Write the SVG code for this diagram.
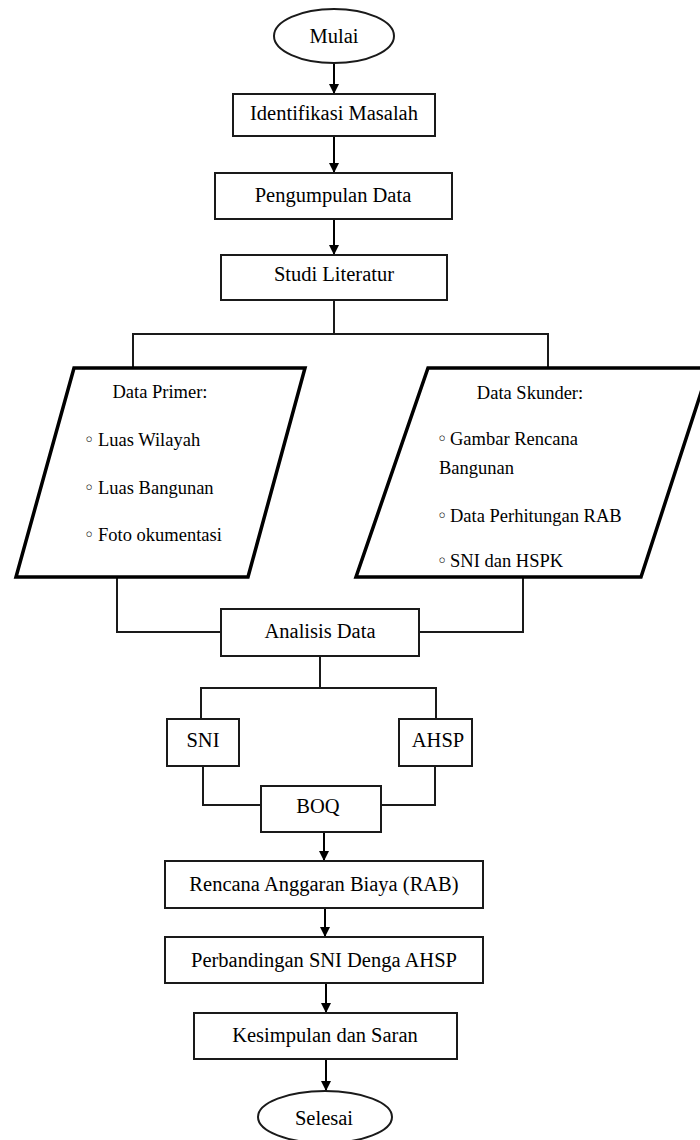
<svg xmlns="http://www.w3.org/2000/svg" width="700" height="1140" viewBox="0 0 700 1140">
  <defs>
    <marker id="ah" markerUnits="userSpaceOnUse" markerWidth="10" markerHeight="11" refX="10" refY="5" orient="auto" viewBox="0 0 10 10">
      <path d="M0,0 L10,5 L0,10 Z" fill="#000"/>
    </marker>
  </defs>
  <style>
    .box { fill: #fff; stroke: #1a1a1a; stroke-width: 2; }
    .para { fill: #fff; stroke: #000; stroke-width: 3.5; stroke-linejoin: miter; }
    .lbl { font-family: "Liberation Serif", "Times New Roman", serif; font-size: 20.5px; fill: #000; text-anchor: middle; }
    .txt { font-family: "Liberation Serif", "Times New Roman", serif; font-size: 18.5px; fill: #000; }
    .bul { font-family: "DejaVu Sans", sans-serif; font-size: 18px; }
    .ln { fill: none; stroke: #1a1a1a; stroke-width: 2; }
    .arr { fill: none; stroke: #000; stroke-width: 2; marker-end: url(#ah); }
  </style>
  <rect width="700" height="1140" fill="#fff"/>

  <g id="connectors">
    <line class="arr" x1="334" y1="64" x2="334" y2="94"/>
    <line class="arr" x1="334" y1="136" x2="334" y2="173"/>
    <line class="arr" x1="334" y1="219" x2="334" y2="255"/>
    <polyline class="ln" points="334,300 334,334"/>
    <polyline class="ln" points="133,368 133,334 548,334 548,368"/>
    <polyline class="ln" points="117,577 117,632 221,632"/>
    <polyline class="ln" points="523,577 523,632 419,632"/>
    <polyline class="ln" points="320,656 320,688"/>
    <polyline class="ln" points="201,719 201,688 436,688 436,719"/>
    <polyline class="ln" points="203,766 203,805 261,805"/>
    <polyline class="ln" points="435,766 435,805 381,805"/>
    <line class="arr" x1="324" y1="832" x2="324" y2="861"/>
    <line class="arr" x1="325" y1="908" x2="325" y2="937"/>
    <line class="arr" x1="326" y1="983" x2="326" y2="1013"/>
    <line class="arr" x1="326" y1="1059" x2="326" y2="1091"/>
  </g>

  <g id="mulai">
    <ellipse class="box" cx="334" cy="36" rx="60" ry="27"/>
    <text class="lbl" x="334" y="43">Mulai</text>
  </g>
  <g id="identifikasi">
    <rect class="box" x="233" y="94" width="202" height="42"/>
    <text class="lbl" x="334" y="120">Identifikasi Masalah</text>
  </g>
  <g id="pengumpulan">
    <rect class="box" x="215" y="173" width="237" height="46"/>
    <text class="lbl" x="333" y="202">Pengumpulan Data</text>
  </g>
  <g id="studi">
    <rect class="box" x="221" y="255" width="226" height="45"/>
    <text class="lbl" x="334" y="281">Studi Literatur</text>
  </g>

  <g id="data-primer">
    <polygon class="para" points="74,368 305,368 248,577 16,577"/>
    <text class="txt" x="160" y="398" text-anchor="middle">Data Primer:</text>
    <text class="txt" x="84" y="446"><tspan class="bul">◦</tspan><tspan x="98">Luas Wilayah</tspan></text>
    <text class="txt" x="84" y="494"><tspan class="bul">◦</tspan><tspan x="98">Luas Bangunan</tspan></text>
    <text class="txt" x="84" y="541"><tspan class="bul">◦</tspan><tspan x="98">Foto okumentasi</tspan></text>
  </g>

  <g id="data-skunder">
    <polygon class="para" points="428,368 709,368 641,577 356,577"/>
    <text class="txt" x="530" y="399" text-anchor="middle">Data Skunder:</text>
    <text class="txt" x="437" y="445"><tspan class="bul">◦</tspan><tspan x="450">Gambar Rencana</tspan></text>
    <text class="txt" x="439" y="474">Bangunan</text>
    <text class="txt" x="437" y="522"><tspan class="bul">◦</tspan><tspan x="450">Data Perhitungan RAB</tspan></text>
    <text class="txt" x="437" y="567"><tspan class="bul">◦</tspan><tspan x="450">SNI dan HSPK</tspan></text>
  </g>

  <g id="analisis">
    <rect class="box" x="221" y="609" width="198" height="47"/>
    <text class="lbl" x="320" y="638">Analisis Data</text>
  </g>
  <g id="sni">
    <rect class="box" x="167" y="719" width="72" height="47"/>
    <text class="lbl" x="203" y="747">SNI</text>
  </g>
  <g id="ahsp">
    <rect class="box" x="399" y="719" width="73" height="47"/>
    <text class="lbl" x="438" y="747">AHSP</text>
  </g>
  <g id="boq">
    <rect class="box" x="261" y="786" width="120" height="46"/>
    <text class="lbl" x="318" y="813">BOQ</text>
  </g>
  <g id="rab">
    <rect class="box" x="165" y="861" width="318" height="47"/>
    <text class="lbl" x="324" y="891">Rencana Anggaran Biaya (RAB)</text>
  </g>
  <g id="perbandingan">
    <rect class="box" x="165" y="937" width="318" height="46"/>
    <text class="lbl" x="324" y="967">Perbandingan SNI Denga AHSP</text>
  </g>
  <g id="kesimpulan">
    <rect class="box" x="194" y="1013" width="263" height="46"/>
    <text class="lbl" x="325" y="1042">Kesimpulan dan Saran</text>
  </g>
  <g id="selesai">
    <ellipse class="box" cx="325" cy="1117" rx="67" ry="26"/>
    <text class="lbl" x="324" y="1125">Selesai</text>
  </g>
</svg>
